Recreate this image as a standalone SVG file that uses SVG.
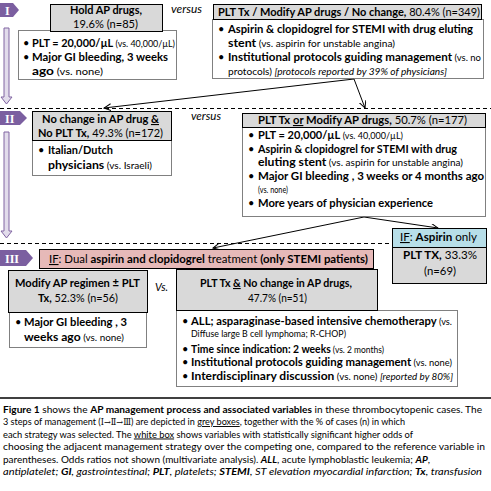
<svg xmlns="http://www.w3.org/2000/svg" width="491" height="491" viewBox="0 0 491 491">
<defs>
<style>
text{font-family:Lato,"Liberation Sans",sans-serif;font-size:11px;fill:#000}
.b{font-weight:bold}
.s{font-size:9px;font-weight:normal}
.i{font-style:italic}
.u{text-decoration:underline}
.cap{font-size:9.5px}
.rn{font-family:"DejaVu Serif","DejaVu Sans",serif;font-size:8.5px}
.grey{fill:#D9D9D9;stroke:#000;stroke-width:1}
.white{fill:#fff;stroke:#000;stroke-width:1;stroke-dasharray:1 1}
.sep{stroke:#000;stroke-width:1;stroke-dasharray:4 3;fill:none}
.badge{fill:#7B5FA0}
.bt{font-family:"Liberation Serif",serif;font-weight:bold;fill:#fff;font-size:12px}
.down{fill:#E2DCEB;stroke:#8064A2;stroke-width:1}
.conn{stroke:#000;stroke-width:1;fill:none;marker-end:url(#ah)}
</style>
<marker id="ah" markerUnits="userSpaceOnUse" markerWidth="9" markerHeight="9" refX="7" refY="3.5" orient="auto">
<path d="M0,0 L7,3.5 L0,7" fill="none" stroke="#000" stroke-width="1"/>
</marker>
</defs>

<g id="separators">
<line class="sep" x1="0" y1="108.5" x2="491" y2="108.5"/>
<line class="sep" x1="0" y1="243.5" x2="392" y2="243.5"/>
<line x1="0" y1="398" x2="491" y2="398" stroke="#000" stroke-width="1.5"/>
</g>

<g id="steps">
<path class="badge" d="M0,3 H13 L19,10 L13,17 H0 Z"/>
<text class="bt" x="5" y="14.5">I</text>
<path class="badge" d="M0,111 H20 L27,118 L20,125 H0 Z"/>
<text class="bt" x="5" y="122.5">II</text>
<path class="badge" d="M0,250 H26 L33,258 L26,266 H0 Z"/>
<text class="bt" x="5" y="262.5">III</text>
<path class="down" d="M4,28 H9 V97 H12 L6.5,104 L1,97 H4 Z"/>
<path class="down" d="M4,132 H9 V231 H12 L6.5,238 L1,231 H4 Z"/>
</g>

<g id="connectors">
<line class="conn" x1="354" y1="79" x2="104" y2="108"/>
<line class="conn" x1="354" y1="79" x2="365" y2="108"/>
<line class="conn" x1="364" y1="217" x2="213" y2="248"/>
<line class="conn" x1="364" y1="217" x2="438" y2="228"/>
</g>

<g id="hold">
<rect class="white" x="18.5" y="30.5" width="158" height="49"/>
<rect class="grey" x="50.5" y="4.5" width="112" height="27"/>
<text class="b" x="70" y="14" textLength="72" lengthAdjust="spacingAndGlyphs">Hold AP drugs,</text>
<text x="73" y="28" textLength="65" lengthAdjust="spacingAndGlyphs">19.6% (n=85)</text>
<text x="23" y="47">•</text>
<text x="32" y="47" textLength="143" lengthAdjust="spacingAndGlyphs"><tspan class="b">PLT = 20,000/µL</tspan><tspan class="s"> (vs. 40,000/µL)</tspan></text>
<text x="23" y="61">•</text>
<text class="b" x="32" y="61" textLength="136" lengthAdjust="spacingAndGlyphs">Major GI bleeding, 3 weeks</text>
<text x="32" y="75" textLength="71" lengthAdjust="spacingAndGlyphs"><tspan class="b">ago</tspan><tspan class="s"> (vs. none)</tspan></text>
</g>

<text class="i" x="171" y="13" font-size="10" textLength="31" lengthAdjust="spacingAndGlyphs">versus</text>

<g id="plt-modify-nochange">
<rect class="white" x="212.5" y="19.5" width="271" height="59"/>
<rect class="grey" x="213.5" y="4.5" width="268" height="15"/>
<text x="218" y="16" textLength="262" lengthAdjust="spacingAndGlyphs"><tspan class="b">PLT Tx / Modify AP drugs / No change,</tspan> 80.4% (n=349)</text>
<text x="218" y="33">•</text>
<text class="b" x="228" y="33" textLength="245" lengthAdjust="spacingAndGlyphs">Aspirin &amp; clopidogrel for STEMI with drug eluting</text>
<text x="228" y="47" textLength="167" lengthAdjust="spacingAndGlyphs"><tspan class="b">stent</tspan><tspan class="s"> (vs. aspirin for unstable angina)</tspan></text>
<text x="218" y="61">•</text>
<text x="228" y="61" textLength="253" lengthAdjust="spacingAndGlyphs"><tspan class="b">Institutional protocols guiding management</tspan><tspan class="s"> (vs. no</tspan></text>
<text x="228" y="75" textLength="219" lengthAdjust="spacingAndGlyphs"><tspan class="s">protocols) </tspan><tspan class="s i">[protocols reported by 39% of physicians]</tspan></text>
</g>

<g id="nochange">
<rect class="white" x="32.5" y="140.5" width="139" height="35"/>
<rect class="grey" x="32.5" y="111.5" width="139" height="29"/>
<text class="b" x="42" y="123" textLength="117" lengthAdjust="spacingAndGlyphs">No change in AP drug <tspan class="u">&amp;</tspan></text>
<text x="38" y="137" textLength="125" lengthAdjust="spacingAndGlyphs"><tspan class="b">No PLT Tx,</tspan> 49.3% (n=172)</text>
<text x="38" y="154">•</text>
<text class="b" x="48" y="154" textLength="65" lengthAdjust="spacingAndGlyphs">Italian/Dutch</text>
<text x="48" y="169" textLength="104" lengthAdjust="spacingAndGlyphs"><tspan class="b">physicians</tspan><tspan class="s"> (vs. Israeli)</tspan></text>
</g>

<text class="i" x="191" y="120" font-size="10" textLength="30" lengthAdjust="spacingAndGlyphs">versus</text>

<g id="plt-or-modify">
<rect class="white" x="242.5" y="127.5" width="243" height="89"/>
<rect class="grey" x="242.5" y="113.5" width="243" height="14"/>
<text x="258" y="124" textLength="209" lengthAdjust="spacingAndGlyphs"><tspan class="b">PLT Tx </tspan><tspan class="b u">or</tspan><tspan class="b"> Modify AP drugs,</tspan> 50.7% (n=177)</text>
<text x="248" y="139">•</text>
<text x="258" y="139" textLength="145" lengthAdjust="spacingAndGlyphs"><tspan class="b">PLT = 20,000/µL</tspan><tspan class="s"> (vs. 40,000/µL)</tspan></text>
<text x="248" y="153">•</text>
<text class="b" x="258" y="153" textLength="199" lengthAdjust="spacingAndGlyphs">Aspirin &amp; clopidogrel for STEMI with drug</text>
<text x="258" y="166" textLength="205" lengthAdjust="spacingAndGlyphs"><tspan class="b">eluting stent</tspan><tspan class="s"> (vs. aspirin for unstable angina)</tspan></text>
<text x="248" y="180">•</text>
<text class="b" x="258" y="180" textLength="226" lengthAdjust="spacingAndGlyphs">Major GI bleeding , 3 weeks or 4 months ago</text>
<text class="s" x="258" y="193" textLength="30" lengthAdjust="spacingAndGlyphs">(vs. none)</text>
<text x="248" y="207">•</text>
<text class="b" x="258" y="207" textLength="175" lengthAdjust="spacingAndGlyphs">More years of physician experience</text>
</g>

<g id="aspirin-only">
<rect x="392.5" y="228.5" width="94" height="19" fill="#B7DEE8" stroke="#000" stroke-width="1"/>
<rect class="grey" x="392.5" y="247.5" width="94" height="36"/>
<text x="400" y="241" textLength="77" lengthAdjust="spacingAndGlyphs"><tspan class="u">IF</tspan>: <tspan class="b">Aspirin</tspan> only</text>
<text x="403" y="259" textLength="74" lengthAdjust="spacingAndGlyphs"><tspan class="b">PLT TX,</tspan> 33.3%</text>
<text x="424" y="275" textLength="32" lengthAdjust="spacingAndGlyphs">(n=69)</text>
</g>

<g id="dual">
<rect x="39.5" y="249.5" width="334" height="19" fill="#E6B9B8" stroke="#000" stroke-width="1"/>
<text x="49" y="263" textLength="319" lengthAdjust="spacingAndGlyphs"><tspan class="u">IF</tspan>: Dual <tspan class="b">aspirin and clopidogrel</tspan> treatment <tspan class="b">(only STEMI patients)</tspan></text>
</g>

<g id="modify-regimen">
<rect class="white" x="9.5" y="312.5" width="137" height="35"/>
<rect class="grey" x="8.5" y="270.5" width="139" height="42"/>
<text class="b" x="15" y="287" textLength="125" lengthAdjust="spacingAndGlyphs">Modify AP regimen ± PLT</text>
<text x="38" y="302" textLength="80" lengthAdjust="spacingAndGlyphs"><tspan class="b">Tx,</tspan> 52.3% (n=56)</text>
<text x="15" y="326">•</text>
<text class="b" x="24" y="326" textLength="103" lengthAdjust="spacingAndGlyphs">Major GI bleeding , 3</text>
<text x="24" y="341" textLength="100" lengthAdjust="spacingAndGlyphs"><tspan class="b">weeks ago</tspan><tspan class="s"> (vs. none)</tspan></text>
</g>

<text class="i" x="155" y="291" textLength="13" lengthAdjust="spacingAndGlyphs">Vs.</text>

<g id="plt-nochange">
<rect class="white" x="176.5" y="310.5" width="281" height="76"/>
<rect class="grey" x="176.5" y="269.5" width="201" height="41"/>
<text class="b" x="200" y="287" textLength="152" lengthAdjust="spacingAndGlyphs">PLT Tx <tspan class="u">&amp;</tspan> No change in AP drugs,</text>
<text x="248" y="302" textLength="59" lengthAdjust="spacingAndGlyphs">47.7% (n=51)</text>
<text x="182" y="325">•</text>
<text x="191" y="325" textLength="261" lengthAdjust="spacingAndGlyphs"><tspan class="b">ALL; asparaginase-based intensive chemotherapy</tspan><tspan class="s"> (vs.</tspan></text>
<text class="s" x="191" y="337" textLength="155" lengthAdjust="spacingAndGlyphs">Diffuse large B cell lymphoma; R-CHOP)</text>
<text x="182" y="352.5">•</text>
<text x="191" y="352.5" textLength="193" lengthAdjust="spacingAndGlyphs"><tspan class="b">Time since indication: 2 weeks</tspan><tspan class="s"> (vs. 2 months)</tspan></text>
<text x="182" y="366">•</text>
<text x="191" y="366" textLength="261" lengthAdjust="spacingAndGlyphs"><tspan class="b">Institutional protocols guiding management</tspan><tspan class="s"> (vs. none)</tspan></text>
<text x="182" y="380">•</text>
<text x="191" y="380" textLength="262" lengthAdjust="spacingAndGlyphs"><tspan class="b">Interdisciplinary discussion</tspan><tspan class="s"> (vs. none) </tspan><tspan class="s i">[reported by 80%]</tspan></text>
</g>

<g id="caption">
<text class="cap" x="3" y="412.5" textLength="479" lengthAdjust="spacingAndGlyphs"><tspan class="b">Figure 1</tspan> shows the <tspan class="b">AP management process and associated variables</tspan> in these thrombocytopenic cases. The</text>
<text class="cap" x="3" y="425" textLength="402" lengthAdjust="spacingAndGlyphs">3 steps of management (<tspan class="rn">Ⅰ→Ⅱ→Ⅲ</tspan>) are depicted in <tspan class="u">grey boxes</tspan>, together with the % of cases (n) in which</text>
<text class="cap" x="3" y="437.5" textLength="410" lengthAdjust="spacingAndGlyphs">each strategy was selected. The <tspan class="u">white box</tspan> shows variables with statistically significant higher odds of</text>
<text class="cap" x="3" y="450" textLength="482" lengthAdjust="spacingAndGlyphs">choosing the adjacent management strategy over the competing one, compared to the reference variable in</text>
<text class="cap" x="3" y="462.5" textLength="427" lengthAdjust="spacingAndGlyphs">parentheses. Odds ratios not shown (multivariate analysis). <tspan class="b i">ALL</tspan>, acute lymphoblastic leukemia; <tspan class="b i">AP</tspan>,</text>
<text class="cap i" x="3" y="475" textLength="479" lengthAdjust="spacingAndGlyphs">antiplatelet; <tspan class="b">GI</tspan>, gastrointestinal; <tspan class="b">PLT</tspan>, platelets; <tspan class="b">STEMI</tspan>, ST elevation myocardial infarction; <tspan class="b">Tx</tspan>, transfusion</text>
</g>
</svg>
